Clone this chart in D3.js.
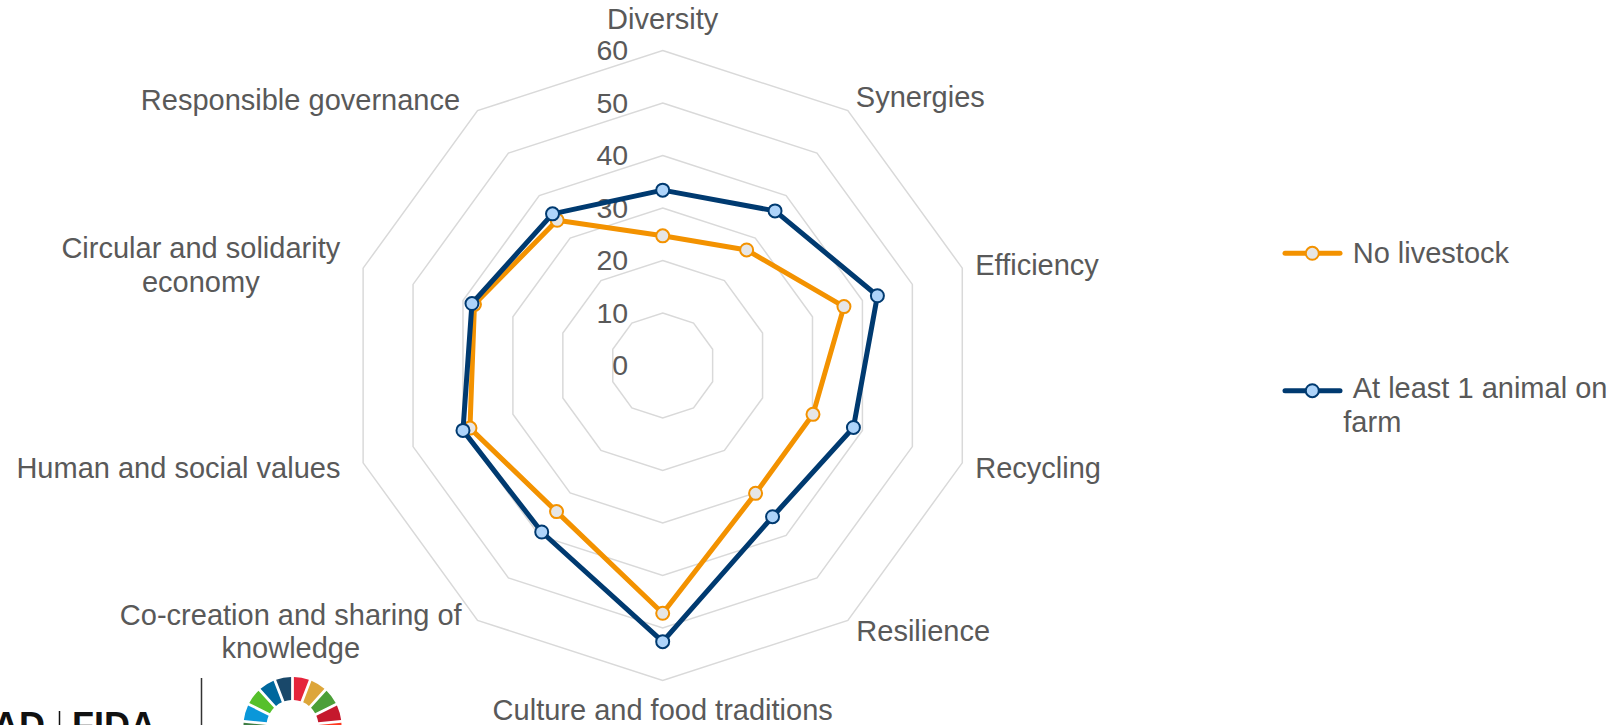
<!DOCTYPE html>
<html>
<head>
<meta charset="utf-8">
<script src="https://cdn.jsdelivr.net/npm/d3@7"></script>
<style>
  html, body { margin: 0; padding: 0; background: #ffffff; }
  svg { display: block; }
  text { font-family: "Liberation Sans", Arial, sans-serif; }
</style>
</head>
<body>
<svg id="chart" width="1624" height="725"></svg>
<script>
// Agroecology elements, clockwise from the top
const categories = [
  "Diversity",
  "Synergies",
  "Efficiency",
  "Recycling",
  "Resilience",
  "Culture and food traditions",
  "Co-creation and sharing of knowledge",
  "Human and social values",
  "Circular and solidarity economy",
  "Responsible governance"
];

const seriesNames = ["No livestock", "At least 1 animal on farm"];

// Scores per element
const noLivestock   = [24.7, 27.2, 36.3, 30.1, 30.1, 47.2, 34.4, 38.6, 37.7, 34.2];
const withAnimals   = [33.4, 36.4, 43.0, 38.2, 35.6, 52.6, 39.2, 40.0, 38.2, 35.7];

const tickValues = [0, 10, 20, 30, 40, 50, 60];

// Sustainable Development Goal colours, goal 1 to 17
const sdgColors = ["#E5243B", "#DDA63A", "#4C9F38", "#C5192D", "#FF3A21", "#26BDE2",
  "#FCC30B", "#A21942", "#FD6925", "#DD1367", "#FD9D24", "#BF8B2E", "#3F7E44",
  "#0A97D9", "#56C02B", "#00689D", "#19486A"];

// ---- layout ----
const cx = 662.7, cy = 365.5;
const textColor = "#595959";
const gridColor = "#d9d9d9";
const seriesStyle = [
  { stroke: "#F39200", fill: "#E6E6E6" },
  { stroke: "#003A70", fill: "#AED4FA" }
];

// Category label placement relative to each axis end point (60 ring vertex)
const labelPlacement = [
  { anchor: "middle", dx: 0,      dy: -21.2 },
  { anchor: "start",  dx: 8,      dy: -3.4 },
  { anchor: "start",  dx: 13,     dy: 6.8 },
  { anchor: "start",  dx: 13,     dy: 14.9 },
  { anchor: "start",  dx: 8.5,    dy: 20.4 },
  { anchor: "middle", dx: 0,      dy: 39.5 },
  { anchor: "middle", dx: -186.8, dy: 4.7 },
  { anchor: "end",    dx: -22.7,  dy: 14.9 },
  { anchor: "middle", dx: -162.3, dy: -9.9 },
  { anchor: "end",    dx: -17.5,  dy: -0.7 }
];
const labelLines = [
  ["Diversity"], ["Synergies"], ["Efficiency"], ["Recycling"], ["Resilience"],
  ["Culture and food traditions"], ["Co-creation and sharing of", "knowledge"],
  ["Human and social values"], ["Circular and solidarity", "economy"],
  ["Responsible governance"]
];

const svg = d3.select("#chart");
const g = svg.append("g").attr("transform", `translate(${cx},${cy})`);

const r = d3.scaleLinear().domain([0, 60]).range([0, 315]);
const angle = d3.scaleLinear().domain([0, categories.length]).range([0, 2 * Math.PI]);

const pt = (i, v) => [r(v) * Math.sin(angle(i)), -r(v) * Math.cos(angle(i))];

// Grid rings (10-sided polygons)
const ringLine = d3.lineRadial().curve(d3.curveLinearClosed);
g.append("g").selectAll("path")
  .data(tickValues.filter(t => t > 0))
  .join("path")
  .attr("d", t => ringLine(categories.map((c, i) => [angle(i), r(t)])))
  .attr("fill", "none")
  .attr("stroke", gridColor)
  .attr("stroke-width", 1.5);

// Radial tick labels
g.append("g").selectAll("text")
  .data(tickValues)
  .join("text")
  .attr("x", -34.5)
  .attr("y", t => -r(t))
  .attr("dy", "0.35em")
  .attr("text-anchor", "end")
  .attr("font-size", 28.5)
  .attr("fill", textColor)
  .text(t => t);

// Series
const seriesData = [noLivestock, withAnimals];
const seriesLine = d3.lineRadial().curve(d3.curveLinearClosed);
seriesData.forEach((vals, s) => {
  const sg = g.append("g");
  sg.append("path")
    .attr("d", seriesLine(vals.map((v, i) => [angle(i), r(v)])))
    .attr("fill", "none")
    .attr("stroke", seriesStyle[s].stroke)
    .attr("stroke-width", 5)
    .attr("stroke-linejoin", "round");
  sg.selectAll("circle")
    .data(vals)
    .join("circle")
    .attr("cx", (v, i) => pt(i, v)[0])
    .attr("cy", (v, i) => pt(i, v)[1])
    .attr("r", 6.5)
    .attr("fill", seriesStyle[s].fill)
    .attr("stroke", seriesStyle[s].stroke)
    .attr("stroke-width", 2);
});

// Category labels
const labels = g.append("g");
categories.forEach((c, i) => {
  const [vx, vy] = pt(i, 60);
  const p = labelPlacement[i];
  const t = labels.append("text")
    .attr("text-anchor", p.anchor)
    .attr("font-size", 29)
    .attr("fill", textColor);
  labelLines[i].forEach((line, k) => {
    t.append("tspan")
      .attr("x", vx + p.dx)
      .attr("y", vy + p.dy + k * 33.3)
      .text(line);
  });
});

// Legend
const legend = svg.append("g");
const legendRows = [
  { y: 253.3, textY: 262.7, lines: [[1352.7, "No livestock"]] },
  { y: 390.7, textY: 398.3, lines: [[1352.7, "At least 1 animal on"], [1343.3, "farm"]] }
];
legendRows.forEach((row, s) => {
  legend.append("line")
    .attr("x1", 1285).attr("x2", 1340)
    .attr("y1", row.y).attr("y2", row.y)
    .attr("stroke", seriesStyle[s].stroke)
    .attr("stroke-width", 5)
    .attr("stroke-linecap", "round");
  legend.append("circle")
    .attr("cx", 1312.3).attr("cy", row.y).attr("r", 6.5)
    .attr("fill", seriesStyle[s].fill)
    .attr("stroke", seriesStyle[s].stroke)
    .attr("stroke-width", 2);
  row.lines.forEach(([x, line], k) => {
    legend.append("text")
      .attr("x", x).attr("y", row.textY + k * 33.3)
      .attr("font-size", 29)
      .attr("fill", textColor)
      .text(line);
  });
});

// Footer logos
const footer = svg.append("g");
footer.append("text")
  .attr("x", 45).attr("y", 738)
  .attr("text-anchor", "end")
  .attr("font-size", 36).attr("font-weight", "bold")
  .attr("fill", "#111")
  .text("IFAD");
footer.append("line")
  .attr("x1", 59.5).attr("x2", 59.5).attr("y1", 711).attr("y2", 725)
  .attr("stroke", "#111").attr("stroke-width", 1.5);
footer.append("text")
  .attr("x", 72).attr("y", 738)
  .attr("font-size", 36).attr("font-weight", "bold")
  .attr("fill", "#111")
  .text("FIDA");
footer.append("line")
  .attr("x1", 201.5).attr("x2", 201.5).attr("y1", 678).attr("y2", 725)
  .attr("stroke", "#333").attr("stroke-width", 1.5);

const wheelArc = d3.arc().innerRadius(26).outerRadius(49).padAngle(0.05);
const step = 2 * Math.PI / sdgColors.length;
footer.append("g")
  .attr("transform", "translate(292.5,726)")
  .selectAll("path")
  .data(sdgColors)
  .join("path")
  .attr("d", (c, i) => wheelArc({ startAngle: i * step, endAngle: (i + 1) * step }))
  .attr("fill", c => c);
</script>
</body>
</html>
